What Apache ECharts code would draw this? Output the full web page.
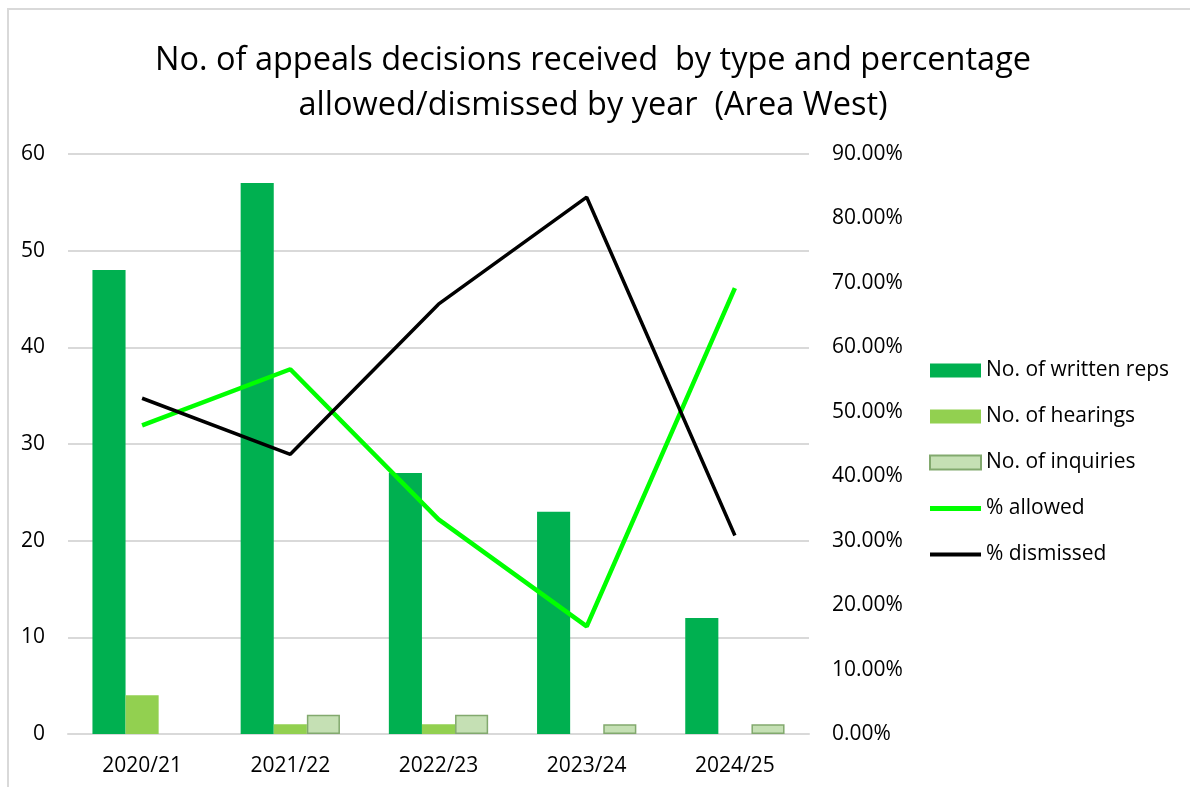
<!DOCTYPE html>
<html>
<head>
<meta charset="UTF-8">
<title>Appeals decisions - Area West</title>
<script src="https://cdn.jsdelivr.net/npm/echarts@6/dist/echarts.min.js"></script>
<style>
  html, body { margin: 0; padding: 0; background: #fff; }
  #main { width: 1190px; height: 787px; }
</style>
</head>
<body>
<div id="main"></div>
<script>
// data
var years = ['2020/21', '2021/22', '2022/23', '2023/24', '2024/25'];
var writtenReps = [48, 57, 27, 23, 12];
var hearings = [4, 1, 1, 0, 0];
var inquiries = [0, 2, 2, 1, 1];
var pctAllowed = [47.9, 56.6, 33.3, 16.7, 69.2];
var pctDismissed = [52.1, 43.4, 66.7, 83.3, 30.8];

var FONT = '"Open Sans", "Noto Sans", sans-serif';

// zero bars are not drawn at all (no outline) in the original
function dropZeros(arr) {
    return arr.map(function (v) { return v === 0 ? '-' : v; });
}

var chart = echarts.init(document.getElementById('main'));
chart.setOption({
    animation: false,
    title: {
        text: 'No. of appeals decisions received  by type and percentage\nallowed/dismissed by year  (Area West)',
        left: 588,
        textAlign: 'center',
        top: 33,
        textStyle: { fontFamily: FONT, fontSize: 32.5, fontWeight: 'normal', color: '#000', lineHeight: 45 }
    },
    graphic: [{
        type: 'rect',
        shape: { x: 8, y: 9, width: 1200, height: 800 },
        style: { fill: 'none', stroke: '#d9d9d9', lineWidth: 2 },
        silent: true
    }],
    legend: {
        orient: 'vertical',
        left: 929,
        top: 360,
        padding: 0,
        itemWidth: 51,
        itemHeight: 14,
        itemGap: 25,
        symbolKeepAspect: true,
        textStyle: { fontFamily: FONT, fontSize: 21, color: '#000', lineHeight: 21 },
        data: [
            { name: 'No. of written reps', icon: 'rect' },
            { name: 'No. of hearings', icon: 'rect' },
            { name: 'No. of inquiries', icon: 'rect' },
            { name: '% allowed', icon: 'path://M0,0 L51,0 L51,5 L0,5 Z' },
            { name: '% dismissed', icon: 'path://M0,0 L51,0 L51,4 L0,4 Z' }
        ]
    },
    grid: { left: 68, right: 381, top: 154, bottom: 53 },
    xAxis: {
        type: 'category',
        data: years,
        axisLine: { lineStyle: { color: '#d9d9d9', width: 2 } },
        axisTick: { show: false },
        axisLabel: { fontFamily: FONT, fontSize: 21, color: '#000', margin: 22 }
    },
    yAxis: [{
        type: 'value',
        min: 0, max: 60, interval: 10,
        axisLine: { show: false },
        axisTick: { show: false },
        splitLine: { lineStyle: { color: '#d9d9d9', width: 2 } },
        axisLabel: { fontFamily: FONT, fontSize: 21, color: '#000', margin: 23 }
    }, {
        type: 'value',
        min: 0, max: 90, interval: 10,
        axisLine: { show: false },
        axisTick: { show: false },
        splitLine: { show: false },
        axisLabel: {
            fontFamily: FONT, fontSize: 21, color: '#000', margin: 23,
            formatter: function (v) { return v.toFixed(2) + '%'; }
        }
    }],
    series: [{
        name: 'No. of written reps',
        type: 'bar',
        data: dropZeros(writtenReps),
        barGap: 0,
        barCategoryGap: '33%',
        itemStyle: { color: '#00b050' }
    }, {
        name: 'No. of hearings',
        type: 'bar',
        data: dropZeros(hearings),
        itemStyle: { color: '#92d050' }
    }, {
        name: 'No. of inquiries',
        type: 'bar',
        data: dropZeros(inquiries),
        itemStyle: { color: '#c5e0b4', borderColor: '#82a96e', borderWidth: 1.5 }
    }, {
        name: '% allowed',
        type: 'line',
        yAxisIndex: 1,
        data: pctAllowed,
        symbol: 'none',
        lineStyle: { color: '#00ff00', width: 4.5 },
        itemStyle: { color: '#00ff00' }
    }, {
        name: '% dismissed',
        type: 'line',
        yAxisIndex: 1,
        data: pctDismissed,
        symbol: 'none',
        lineStyle: { color: '#000', width: 3.5 },
        itemStyle: { color: '#000' }
    }]
});
</script>
</body>
</html>
